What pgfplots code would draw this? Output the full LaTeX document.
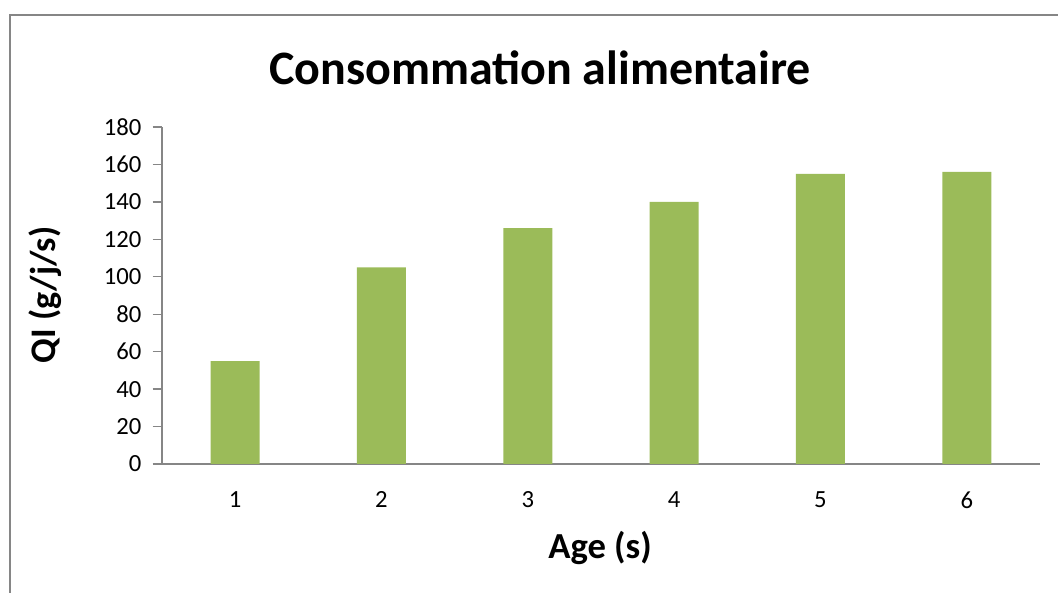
\documentclass[border=0pt]{standalone}
\usepackage{pgfplots}
\pgfplotsset{compat=1.18}
\usepackage{fontspec}
\setmainfont{Carlito}
\definecolor{bargreen}{HTML}{9BBB59}
\definecolor{axgray}{HTML}{868686}
\begin{document}
\begin{tikzpicture}[x=0.75pt,y=0.75pt]
\useasboundingbox (0,0) rectangle (1058,593);
\draw[axgray,line width=1.2pt] (10,0) -- (10,578) -- (1058,578);
\begin{axis}[
  at={(121.5pt,96.75pt)}, anchor=south west,
  scale only axis, width=658.5pt, height=252.75pt,
  xmin=0.5, xmax=6.5, ymin=0, ymax=180,
  ytick={0,20,...,180}, xtick={1,2,3,4,5,6},
  axis x line=bottom, axis y line=left,
  axis line style={axgray, line width=1pt, -},
  x axis line style={-}, y axis line style={-},
  major tick length=7pt,
  ytick style={axgray, line width=1pt},
  xtick style={draw=none},
  tick align=outside,
  /pgf/number format/assume math mode=true,
  ticklabel style={font=\fontsize{18.5}{21}\selectfont},
  yticklabel style={xshift=-5pt},
  xticklabel style={yshift=-10pt},
  ybar, bar width=36.75pt,
  clip=false,
]
\addplot[fill=bargreen, draw=none] coordinates {(1,55) (2,105) (3,126) (4,140) (5,155) (6,156)};
\end{axis}
\node[font=\bfseries\fontsize{36}{42}\selectfont] at (540,525) {Consommation alimentaire};
\node[font=\bfseries\fontsize{27}{32}\selectfont, rotate=90] at (45,298) {QI (g/j/s)};
\node[font=\bfseries\fontsize{27.5}{32}\selectfont] at (600,45) {Age (s)};
\end{tikzpicture}
\end{document}
